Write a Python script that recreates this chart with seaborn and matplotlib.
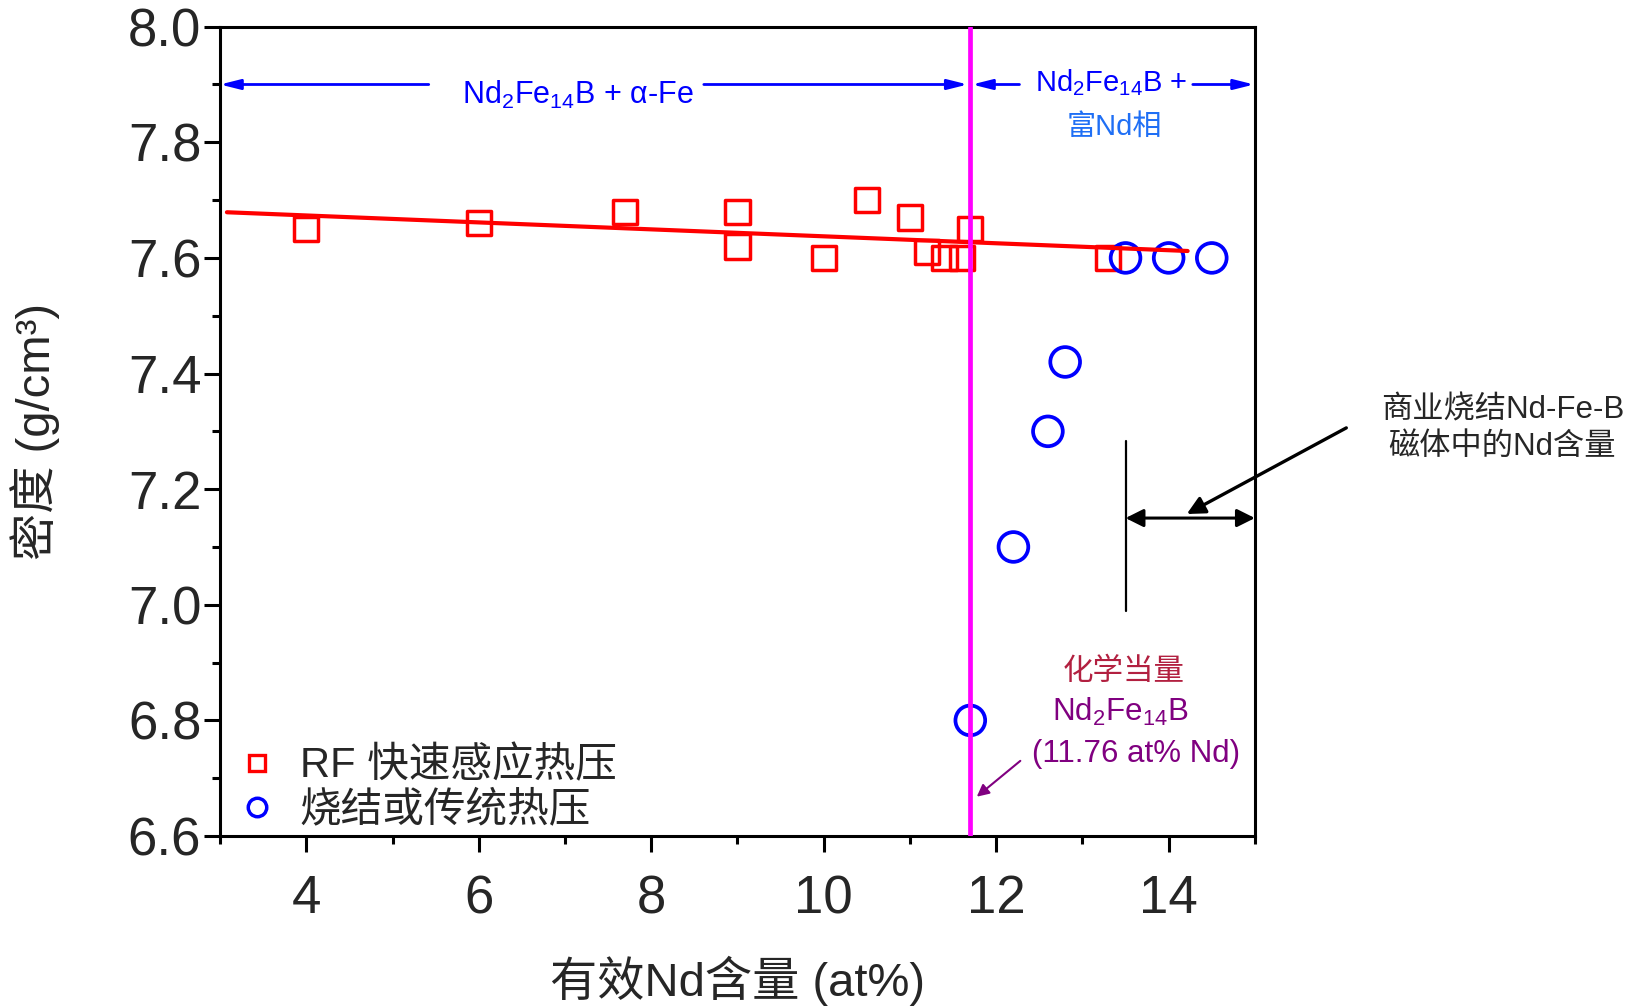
import matplotlib
matplotlib.use("Agg")
import matplotlib.pyplot as plt
from matplotlib.lines import Line2D
from matplotlib.ticker import MultipleLocator, FormatStrFormatter
import seaborn as sns

# RF rapid induction hot pressing (squares)
rf_x = [4, 6, 7.7, 9, 9, 10, 10.5, 11, 11.2, 11.4, 11.6, 11.7, 13.3]
rf_y = [7.65, 7.66, 7.68, 7.68, 7.62, 7.60, 7.70, 7.67, 7.61, 7.60, 7.60, 7.65, 7.60]

# sintered / conventional hot pressing (circles)
sint_x = [11.7, 12.2, 12.6, 12.8, 13.5, 14.0, 14.5]
sint_y = [6.80, 7.10, 7.30, 7.42, 7.60, 7.60, 7.60]

# linear fit through the RF points
fit_x = [3.08, 14.22]
fit_y = [7.679, 7.612]

stoich_x = 11.7
commercial_x = [13.5, 15.0]

legend_labels = ["RF 快速感应热压", "烧结或传统热压"]

sns.set_style("ticks")
plt.rcParams["font.family"] = ["Liberation Sans", "Noto Sans CJK SC"]
plt.rcParams["mathtext.fontset"] = "custom"
plt.rcParams["mathtext.rm"] = "Liberation Sans"

fig = plt.figure(figsize=(16.31, 10.07), dpi=100)
ax = fig.add_axes([0.1349, 0.1698, 0.6345, 0.8037])

sns.scatterplot(x=rf_x, y=rf_y, marker="s", s=17.5 ** 2, facecolor="none",
                edgecolor="#FF0000", linewidth=2.5, ax=ax, zorder=3, legend=False)
sns.scatterplot(x=sint_x, y=sint_y, marker="o", s=21.4 ** 2, facecolor="none",
                edgecolor="#0000FF", linewidth=2.7, ax=ax, zorder=4, legend=False)
sns.lineplot(x=fit_x, y=fit_y, color="#FF0000", linewidth=3.0, ax=ax, zorder=5)
ax.axvline(stoich_x, color="#FF00FF", linewidth=3.4, zorder=6)

ax.set_xlim(3, 15)
ax.set_ylim(6.6, 8.0)
ax.xaxis.set_major_locator(MultipleLocator(2))
ax.xaxis.set_minor_locator(MultipleLocator(1))
ax.yaxis.set_major_locator(MultipleLocator(0.2))
ax.yaxis.set_minor_locator(MultipleLocator(0.1))
ax.yaxis.set_major_formatter(FormatStrFormatter("%.1f"))
for sp in ax.spines.values():
    sp.set_linewidth(2.2)
    sp.set_color("black")
ax.tick_params(which="major", direction="out", length=11.5, width=2.2, labelsize=38, color="black")
ax.tick_params(which="minor", direction="out", length=5.8, width=2.2, color="black")
ax.tick_params(axis="x", which="major", pad=16)
ax.tick_params(axis="y", which="major", pad=2)

ax.set_xlabel("有效Nd含量 (at%)", fontsize=34)
ax.set_ylabel("密度 (g/cm³)", fontsize=34)
ax.xaxis.set_label_coords(0.5, -0.148)
ax.yaxis.set_label_coords(-0.155, 0.5)

# phase region arrows along the top
blue = "#0000FF"
head = dict(arrowstyle="-|>,head_length=0.6,head_width=0.15", color=blue, lw=2,
            shrinkA=0, shrinkB=0, mutation_scale=20)
ax.annotate("", xy=(3.0, 7.9), xytext=(5.42, 7.9), arrowprops=head)
ax.annotate("", xy=(11.67, 7.9), xytext=(8.61, 7.9), arrowprops=head)
ax.annotate("", xy=(11.72, 7.9), xytext=(12.27, 7.9), arrowprops=head)
ax.annotate("", xy=(14.99, 7.9), xytext=(14.28, 7.9), arrowprops=head)
ax.text(7.15, 7.867, "Nd$_\\mathregular{2}$Fe$_\\mathregular{14}$B + α-Fe", ha="center",
        va="baseline", fontsize=22, color=blue)
ax.text(13.33, 7.888, "Nd$_\\mathregular{2}$Fe$_\\mathregular{14}$B +", ha="center",
        va="baseline", fontsize=21, color=blue)
ax.text(13.37, 7.826, "富Nd相", ha="center", va="center", fontsize=21, color="#1F6FF5")

# stoichiometric annotation
purple = "#800080"
ax.text(13.48, 6.883, "化学当量", ha="center", va="center", fontsize=22, color="#B22040")
ax.text(13.44, 6.7995, "Nd$_\\mathregular{2}$Fe$_\\mathregular{14}$B", ha="center",
        va="baseline", fontsize=22.5, color=purple)
ax.text(13.62, 6.742, "(11.76 at% Nd)", ha="center", va="center", fontsize=22.5, color=purple)
ax.annotate("", xy=(11.775, 6.668), xytext=(12.28, 6.730),
            arrowprops=dict(arrowstyle="-|>", color=purple, lw=1.5, shrinkA=0, shrinkB=0,
                            mutation_scale=18))

# commercial sintered magnet range
ax.plot([commercial_x[0], commercial_x[0]], [6.99, 7.283], color="black", lw=1.6, zorder=5)
ax.annotate("", xy=(commercial_x[0], 7.15), xytext=(commercial_x[1], 7.15),
            arrowprops=dict(arrowstyle="<|-|>", color="black", lw=2.2, shrinkA=0, shrinkB=0,
                            mutation_scale=27))
ax.annotate("", xy=(14.21, 7.157), xytext=(16.06, 7.306), annotation_clip=False,
            arrowprops=dict(arrowstyle="-|>", color="black", lw=2.4, shrinkA=0, shrinkB=0,
                            mutation_scale=27))
ax.text(17.87, 7.305, "商业烧结Nd-Fe-B\n磁体中的Nd含量", ha="center", va="center",
        fontsize=22.5, clip_on=False, linespacing=1.3)

handles = [
    Line2D([], [], marker="s", ls="none", mfc="none", mec="#FF0000", ms=12, mew=2.4),
    Line2D([], [], marker="o", ls="none", mfc="none", mec="#0000FF", ms=13.3, mew=2.5),
]
ax.legend(handles, legend_labels, loc="center left", bbox_to_anchor=(0.016, 0.059),
          frameon=False, fontsize=30, handlelength=1.0, handletextpad=0.52,
          labelspacing=0.1, borderpad=0, borderaxespad=0)

fig.savefig("out.png", dpi=100)
